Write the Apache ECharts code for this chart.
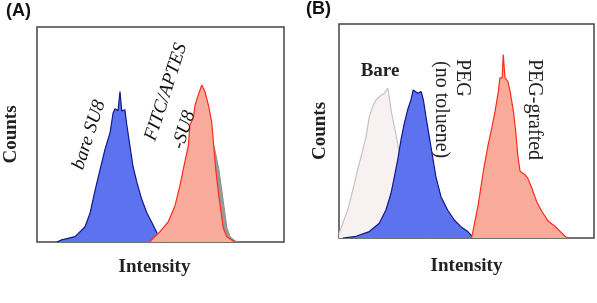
<!DOCTYPE html>
<html>
<head>
<meta charset="utf-8">
<script src="https://cdn.jsdelivr.net/npm/echarts@6/dist/echarts.min.js"></script>
<style>
html, body { margin: 0; padding: 0; background: #fff; }
#chart-container { width: 597px; height: 303px; }
</style>
</head>
<body>
<div id="chart-container"></div>
<script>
// panel A histograms, [intensity, counts] in arbitrary units
var bareSU8 = [[8, 0], [10, 1], [15.4, 2.5], [19.4, 7], [21.5, 13.5], [23.5, 24], [25.5, 33.5], [27.5, 43],
	[29.6, 51], [30.8, 60], [31.6, 62], [32.8, 61], [33.6, 70], [34.3, 61], [35.6, 61.5], [36.3, 55],
	[37.7, 44], [38.9, 35], [40.5, 27.5], [42.5, 19.5], [44.5, 13.5], [46.6, 8.8], [48.6, 4.2], [50.6, 0]];
var fitcSU8 = [[45.5, 0], [49.8, 4.8], [53.2, 9.5], [55.9, 17], [57.9, 26.5], [59.9, 37.5], [61.3, 45],
	[61.9, 54.5], [63.3, 57.7], [64, 63.7], [65.3, 68.4], [66.7, 73], [68, 70], [69.4, 63.7], [70.7, 56],
	[71.4, 46.7], [72.3, 34.4], [73.4, 23.4], [74.5, 14], [75.4, 6.5], [76.8, 2.5], [78.8, 0.9], [80.2, 0]];
var controlA = [[47, 0], [51, 4.8], [54.4, 9.5], [57.1, 17], [59.1, 26.5], [61.1, 37.5], [62.5, 45],
	[64.5, 50], [67, 52], [69.5, 50], [71.8, 44], [73.6, 34], [74.9, 23.4], [76, 14], [76.9, 6.5],
	[78.2, 2.5], [79.8, 0.9], [81.2, 0]];

// panel B histograms
var bare = [[0, 2], [1.5, 7], [3.4, 13], [5.4, 22.4], [7.3, 31.8], [9.3, 41], [10.6, 47.4], [11.9, 56.7],
	[13.2, 61.4], [14.5, 64.5], [15.8, 66], [17.8, 67.6], [19.1, 70], [19.7, 66], [20.4, 59.8],
	[21.7, 52], [23, 44.2], [24.3, 36.4], [25.6, 28.6], [27.1, 20], [28.6, 12], [30.2, 6], [32.5, 2], [35.7, 0]];
var pegNoToluene = [[1.5, 0], [6.7, 0.8], [11.9, 3], [15.8, 6.9], [18.4, 13.1], [20.4, 20.9], [21.7, 28.6],
	[23, 36.4], [24.3, 45.8], [25.6, 53.6], [26.9, 59.8], [28.2, 64.5], [29.1, 69.2], [29.8, 70],
	[30.9, 67.6], [32.2, 68.4], [33.1, 64.5], [34.1, 56.7], [35.4, 47.4], [36.7, 38], [38, 28.6],
	[40, 19.3], [42.6, 13.1], [45.2, 8.4], [47.8, 5.3], [50.5, 3], [52.4, 0.6], [53.3, 0]];
var pegGrafted = [[52, 0], [54.6, 15.6], [56.6, 31.2], [58.5, 43.6], [59.9, 51.4], [61.2, 59.2], [62.5, 68.5],
	[63.1, 74.8], [64, 74.8], [64.4, 85.7], [65.1, 74.8], [66.2, 73.2], [67.1, 68.5], [68.4, 59.2],
	[69.3, 49.8], [70.1, 38.9], [71, 31.2], [72.9, 29.6], [74, 28], [75.6, 23.4], [77.5, 17.1],
	[79.5, 12.5], [82.1, 7.8], [84.7, 5.5], [86.7, 3.1], [88.6, 0.8], [89.9, 0]];

var serif = '"Liberation Serif", "Times New Roman", serif';
var sans = '"Liberation Sans", Arial, sans-serif';

var dom = document.getElementById('chart-container');
var myChart = echarts.init(dom, null, { renderer: 'canvas' });

function xAx(idx, gap, pad) {
	return {
		type: 'value', gridIndex: idx, min: 0, max: 100,
		name: 'Intensity', nameLocation: 'middle', nameGap: gap,
		nameTextStyle: { fontFamily: serif, fontWeight: 'bold', fontSize: 19, color: '#222', padding: pad },
		axisLine: { show: false }, axisTick: { show: false }, axisLabel: { show: false },
		splitLine: { show: false }
	};
}
function yAx(idx, gap) {
	return {
		type: 'value', gridIndex: idx, min: 0, max: 100,
		name: 'Counts', nameLocation: 'middle', nameGap: gap,
		nameTextStyle: { fontFamily: serif, fontWeight: 'bold', fontSize: 19, color: '#222' },
		axisLine: { show: false }, axisTick: { show: false }, axisLabel: { show: false },
		splitLine: { show: false }
	};
}
function hist(name, idx, data, line, fill, lw, z) {
	return {
		name: name, type: 'line', xAxisIndex: idx, yAxisIndex: idx, z: z,
		data: data, showSymbol: false, symbol: 'none', smooth: false,
		lineStyle: { color: line, width: lw },
		areaStyle: { color: fill, opacity: 1 },
		silent: true
	};
}

var option = {
	animation: false,
	grid: [
		{ left: 37, top: 27, width: 247, height: 215, show: true, borderColor: '#444', borderWidth: 1.5, backgroundColor: 'transparent' },
		{ left: 339, top: 24, width: 255, height: 214, show: true, borderColor: '#444', borderWidth: 1.5, backgroundColor: 'transparent' }
	],
	xAxis: [xAx(0, 16, [0, 12, 0, 0]), xAx(1, 19, 0)],
	yAxis: [yAx(0, 16), yAx(1, 9)],
	series: [
		hist('control', 0, controlA, '#8f8f8f', '#9a9a9a', 1, 2),
		hist('bare SU8', 0, bareSU8, '#10188a', '#5c72ee', 1.2, 3),
		hist('FITC/APTES-SU8', 0, fitcSU8, '#ff2a1c', '#f9ab9b', 1.2, 4),
		hist('Bare', 1, bare, '#c4c4c4', '#f7f2f1', 1.2, 2),
		hist('PEG (no toluene)', 1, pegNoToluene, '#10188a', '#5c72ee', 1.2, 3),
		hist('PEG-grafted', 1, pegGrafted, '#ff2a1c', '#f9ab9b', 1.2, 4)
	],
	graphic: [
		{ type: 'text', left: 6, top: 2, z: 10, style: { text: '(A)', font: 'bold 18px ' + sans, fill: '#111' } },
		{ type: 'text', left: 306, top: 0, z: 10, style: { text: '(B)', font: 'bold 18px ' + sans, fill: '#111' } },
		{ type: 'text', x: 89, y: 135, z: 10, rotation: 72 * Math.PI / 180,
			style: { text: 'bare SU8', font: 'italic 19px ' + serif, fill: '#111', align: 'center', verticalAlign: 'middle' } },
		{ type: 'text', x: 166, y: 92, z: 10, rotation: 72 * Math.PI / 180,
			style: { text: 'FITC/APTES', font: 'italic 19px ' + serif, fill: '#111', align: 'center', verticalAlign: 'middle' } },
		{ type: 'text', x: 184, y: 130, z: 10, rotation: 72 * Math.PI / 180,
			style: { text: '-SU8', font: 'italic 19px ' + serif, fill: '#111', align: 'center', verticalAlign: 'middle' } },
		{ type: 'text', x: 380, y: 71, z: 10,
			style: { text: 'Bare', font: 'bold 19px ' + serif, fill: '#222', align: 'center', verticalAlign: 'middle' } },
		{ type: 'text', x: 462, y: 59, z: 10, rotation: -Math.PI / 2,
			style: { text: 'PEG', font: '20px ' + serif, fill: '#222', align: 'left', verticalAlign: 'middle' } },
		{ type: 'text', x: 441, y: 61, z: 10, rotation: -Math.PI / 2,
			style: { text: '(no toluene)', font: '20px ' + serif, fill: '#222', align: 'left', verticalAlign: 'middle' } },
		{ type: 'text', x: 534, y: 59, z: 10, rotation: -Math.PI / 2,
			style: { text: 'PEG-grafted', font: '20px ' + serif, fill: '#222', align: 'left', verticalAlign: 'middle' } }
	]
};

myChart.setOption(option);
window.addEventListener('resize', myChart.resize);
</script>
</body>
</html>
